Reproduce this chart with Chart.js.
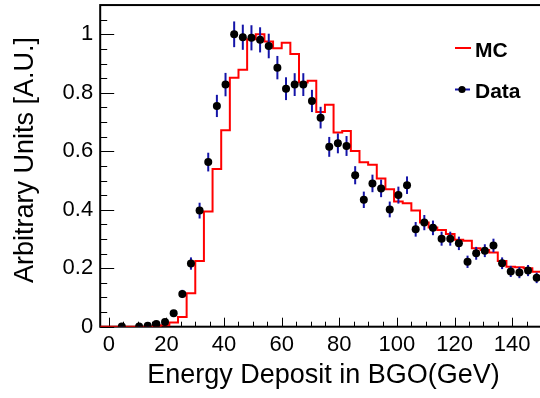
<!DOCTYPE html>
<html><head><meta charset="utf-8">
<script src="https://cdn.jsdelivr.net/npm/chart.js@4"></script>
<style>html,body{margin:0;padding:0;background:#fff;overflow:hidden;}#wrap{width:545px;height:398px;}</style>
</head><body><div id="wrap"><canvas id="c" width="545" height="398"></canvas></div>
<script>
// ---- data ----
const mcBinStart = -3;
const mcBinWidth = 3;
const mcValues = [0,0,0,0,0,0,0,
  0.005,0.014,0.033,0.114,0.225,0.394,0.539,0.672,0.851,0.879,
  0.983,1.000,0.975,0.952,0.971,0.933,0.835,0.841,0.734,0.759,
  0.664,0.669,0.601,0.562,0.554,0.507,0.470,0.428,0.422,0.397,
  0.356,0.339,0.331,0.317,0.297,0.294,0.268,0.262,0.254,0.225,
  0.205,0.203,0.200,0.188];
const dataCenters = [4.5,10.5,13.5,16.5,19.5,22.5,25.5,28.5,31.5,34.5,37.5,40.5,43.5,46.5,49.5,52.5,55.5,58.5,61.5,64.5,67.5,70.5,73.5,76.5,79.5,82.5,85.5,88.5,91.5,94.5,97.5,100.5,103.5,106.5,109.5,112.5,115.5,118.5,121.5,124.5,127.5,130.5,133.5,136.5,139.5,142.5,145.5,148.5];
const dataValues = [0.001,0.001,0.003,0.009,0.016,0.046,0.112,0.216,0.397,0.563,0.755,0.828,1.000,0.990,0.988,0.981,0.960,0.886,0.814,0.828,0.828,0.772,0.715,0.615,0.627,0.618,0.518,0.434,0.490,0.473,0.401,0.450,0.484,0.333,0.356,0.338,0.301,0.301,0.285,0.222,0.251,0.260,0.278,0.217,0.189,0.185,0.192,0.167];
const dataErrors = [0.002,0.002,0.003,0.004,0.005,0.009,0.014,0.021,0.027,0.032,0.038,0.040,0.044,0.043,0.043,0.043,0.042,0.040,0.039,0.039,0.039,0.038,0.037,0.034,0.034,0.034,0.031,0.028,0.030,0.030,0.027,0.029,0.030,0.025,0.026,0.025,0.024,0.024,0.023,0.021,0.022,0.022,0.023,0.020,0.019,0.019,0.019,0.018];
const xTickValues = [0,20,40,60,80,100,120,140];
const xTickLabels = ['0','20','40','60','80','100','120','140'];
const yTickValues = [0,0.2,0.4,0.6,0.8,1.0];
const yTickLabels = ['0','0.2','0.4','0.6','0.8','1'];
const xTitle = 'Energy Deposit in BGO(GeV)';
const yTitle = 'Arbitrary Units [A.U.]';
const seriesNames = ['MC','Data'];

// ---- build ----
const mcPoints = mcValues.map((v,i)=>({x: mcBinStart + i*mcBinWidth, y: v}));
mcPoints.push({x: mcBinStart + mcValues.length*mcBinWidth, y: mcValues[mcValues.length-1]});
const dataPoints = dataCenters.map((c,i)=>({x:c, y:dataValues[i]}));

const FONT = "'Liberation Sans', Arial, Helvetica, sans-serif";
const ERR_COLOR = '#1414a8';

const rootStyle = {
  id: 'rootStyle',
  beforeDatasetsDraw(chart){
    const {ctx, chartArea:a, scales:{x, y}} = chart;
    ctx.save();
    ctx.strokeStyle = '#000';
    ctx.lineWidth = 1;
    for (let v = 0; v <= 1.1001; v += 0.05){
      const major = Math.abs(v*5 - Math.round(v*5)) < 1e-6;
      const py = Math.round(y.getPixelForValue(v)) + 0.5;
      ctx.beginPath(); ctx.moveTo(a.left, py); ctx.lineTo(a.left + (major?14:7), py); ctx.stroke();
    }
    for (let v = 0; v <= 150.001; v += 5){
      const major = v % 20 === 0;
      const px = Math.round(x.getPixelForValue(v)) + 0.5;
      ctx.beginPath(); ctx.moveTo(px, a.bottom); ctx.lineTo(px, a.bottom - (major?9:5)); ctx.stroke();
    }
    ctx.lineWidth = 2;
    ctx.strokeRect(a.left, a.top, a.right - a.left, a.bottom - a.top);
    ctx.restore();
  },
  beforeDatasetDraw(chart, args){
    if (args.index !== 1) return;
    const {ctx, scales:{x, y}} = chart;
    ctx.save();
    ctx.strokeStyle = ERR_COLOR; ctx.lineWidth = 2;
    dataCenters.forEach((c,i)=>{
      const px = x.getPixelForValue(c);
      ctx.beginPath();
      ctx.moveTo(px, y.getPixelForValue(dataValues[i]-dataErrors[i]));
      ctx.lineTo(px, y.getPixelForValue(dataValues[i]+dataErrors[i]));
      ctx.stroke();
    });
    ctx.restore();
  },
  afterDraw(chart){
    const {ctx} = chart;
    ctx.save();
    ctx.font = 'bold 21px ' + FONT;
    ctx.fillStyle = '#000';
    ctx.textBaseline = 'alphabetic'; ctx.textAlign = 'left';
    ctx.strokeStyle = '#ff0000'; ctx.lineWidth = 2;
    ctx.beginPath(); ctx.moveTo(455, 48); ctx.lineTo(471, 48); ctx.stroke();
    ctx.fillText(chart.data.datasets[0].label, 475, 56.7);
    ctx.strokeStyle = ERR_COLOR;
    ctx.beginPath(); ctx.moveTo(455, 89.5); ctx.lineTo(470, 89.5); ctx.stroke();
    ctx.beginPath(); ctx.arc(462, 89.5, 3.6, 0, Math.PI*2); ctx.fill();
    ctx.fillText(chart.data.datasets[1].label, 475, 97.7);
    ctx.font = '27px ' + FONT;
    ctx.textAlign = 'center';
    ctx.fillText(xTitle, 323.5, 383);
    ctx.translate(33, 160);
    ctx.rotate(-Math.PI/2);
    ctx.fillText(yTitle, 0, 0);
    ctx.restore();
  }
};

Chart.defaults.font.family = FONT;
Chart.defaults.color = '#000';

new Chart(document.getElementById('c').getContext('2d'), {
  type: 'scatter',
  data: { datasets: [
    { label: seriesNames[0], type: 'line', data: mcPoints, stepped: true, borderColor: '#ff0000', borderWidth: 2, pointRadius: 0, fill: false, order: 1 },
    { label: seriesNames[1], data: dataPoints, pointRadius: 4, pointBackgroundColor: '#000', pointBorderColor: '#000', pointBorderWidth: 0, showLine: false, order: 0 }
  ]},
  options: {
    responsive: false, animation: false, devicePixelRatio: 1,
    layout: { padding: { top: 0, right: 3.2, left: 0, bottom: 0 } },
    plugins: { legend: { display: false }, tooltip: { enabled: false } },
    scales: {
      x: {
        type: 'linear', min: -3, max: 150,
        grid: { display: false, drawTicks: false }, border: { display: false },
        afterBuildTicks(s){ s.ticks = xTickValues.map(v=>({value:v})); },
        afterFit(s){ s.height = 71.3; s.paddingLeft = 0; s.paddingRight = 0; },
        ticks: { autoSkip: false, maxRotation: 0, padding: 5, font: { size: 22 },
          callback: (v)=>{ const i = xTickValues.indexOf(v); return i>=0 ? xTickLabels[i] : ''; } }
      },
      y: {
        type: 'linear', min: 0, max: 1.1,
        grid: { display: false, drawTicks: false }, border: { display: false },
        afterBuildTicks(s){ s.ticks = yTickValues.map(v=>({value:v})); },
        afterFit(s){ s.width = 100.2; s.paddingTop = 5.06; s.paddingBottom = 0; },
        ticks: { autoSkip: false, padding: 7, font: { size: 22 },
          callback: (v)=>{ const i = yTickValues.findIndex(t=>Math.abs(t-v)<1e-9); return i>=0 ? yTickLabels[i] : ''; } }
      }
    }
  },
  plugins: [rootStyle]
});
</script></body></html>
